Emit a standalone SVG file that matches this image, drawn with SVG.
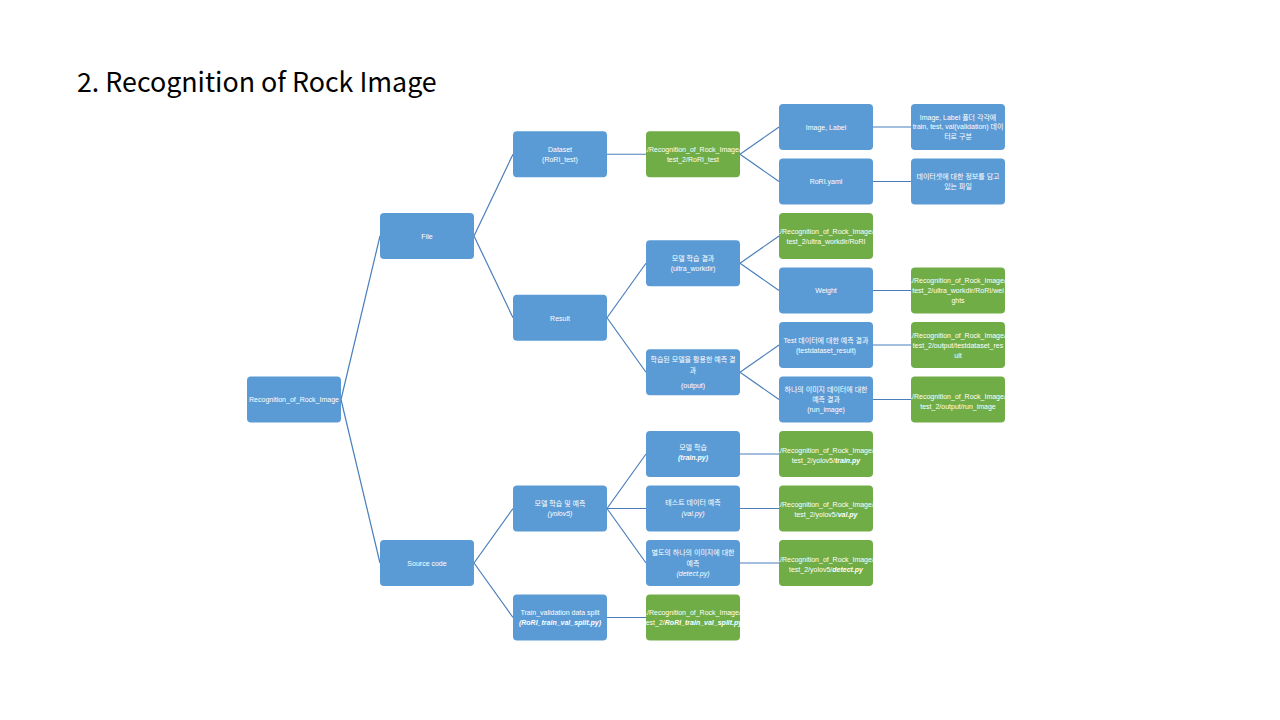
<svg xmlns="http://www.w3.org/2000/svg" width="1280" height="720" viewBox="0 0 1280 720">
<style>
.b{fill:#5b9bd5}
.g{fill:#70ad47}
.t{font-family:"Liberation Sans","Noto Sans CJK KR",sans-serif;font-size:7px;fill:#ffffff;text-anchor:middle}
.bi{font-weight:bold;font-style:italic}
.i{font-style:italic}
.c line{stroke:#4a7ebb;stroke-width:1.2}
.title{font-family:"Noto Sans CJK KR","Noto Sans",sans-serif;font-size:26.8px;fill:#000000}
</style>
<rect width="1280" height="720" fill="#ffffff"/>
<text class="title" x="77" y="92">2. Recognition of Rock Image</text>
<g class="c" id="connectors">
<line x1="341" y1="399.5" x2="380" y2="236"/>
<line x1="341" y1="399.5" x2="380" y2="563"/>
<line x1="474" y1="236" x2="513" y2="154.25"/>
<line x1="474" y1="236" x2="513" y2="317.75"/>
<line x1="474" y1="563" x2="513" y2="508.5"/>
<line x1="474" y1="563" x2="513" y2="617.5"/>
<line x1="607" y1="154.25" x2="646" y2="154.25"/>
<line x1="740" y1="154.25" x2="779" y2="127"/>
<line x1="740" y1="154.25" x2="779" y2="181.5"/>
<line x1="873" y1="127" x2="911" y2="127"/>
<line x1="873" y1="181.5" x2="911" y2="181.5"/>
<line x1="607" y1="317.75" x2="646" y2="263.25"/>
<line x1="607" y1="317.75" x2="646" y2="372.25"/>
<line x1="740" y1="263.25" x2="779" y2="236"/>
<line x1="740" y1="263.25" x2="779" y2="290.5"/>
<line x1="873" y1="290.5" x2="911" y2="290.5"/>
<line x1="740" y1="372.25" x2="779" y2="345"/>
<line x1="740" y1="372.25" x2="779" y2="399.5"/>
<line x1="873" y1="345" x2="911" y2="345"/>
<line x1="873" y1="399.5" x2="911" y2="399.5"/>
<line x1="607" y1="508.5" x2="646" y2="454"/>
<line x1="607" y1="508.5" x2="646" y2="508.5"/>
<line x1="607" y1="508.5" x2="646" y2="563"/>
<line x1="740" y1="454" x2="779" y2="454"/>
<line x1="740" y1="508.5" x2="779" y2="508.5"/>
<line x1="740" y1="563" x2="779" y2="563"/>
<line x1="607" y1="617.5" x2="646" y2="617.5"/>
</g>
<g id="root"><rect class="b" x="247" y="376.5" width="94" height="46" rx="4"/><text class="t" x="294" y="402">Recognition_of_Rock_Image</text></g>
<g id="file"><rect class="b" x="380" y="213" width="94" height="46" rx="4"/><text class="t" x="427" y="238.5">File</text></g>
<g id="source"><rect class="b" x="380" y="540" width="94" height="46" rx="4"/><text class="t" x="427" y="565.5">Source code</text></g>
<g id="dataset"><rect class="b" x="513" y="131.25" width="94" height="46" rx="4"/><text class="t" x="560" y="152">Dataset</text><text class="t" x="560" y="162">(RoRI_test)</text></g>
<g id="result"><rect class="b" x="513" y="294.75" width="94" height="46" rx="4"/><text class="t" x="560" y="320.5">Result</text></g>
<g id="yolov5"><rect class="b" x="513" y="485.5" width="94" height="46" rx="4"/><text class="t" x="560" y="506">모델 학습 및 예측</text><text class="t i" x="560" y="516">(yolov5)</text></g>
<g id="trainval"><rect class="b" x="513" y="594.5" width="94" height="46" rx="4"/><text class="t" x="560" y="615">Train_validation data split</text><text class="t bi" x="560" y="625">(RoRI_train_val_split.py)</text></g>
<g id="dataset-path"><rect class="g" x="646" y="131.25" width="94" height="46" rx="4"/><text class="t" x="693" y="152">./Recognition_of_Rock_Image/</text><text class="t" x="693" y="162">test_2/RoRI_test</text></g>
<g id="train-result"><rect class="b" x="646" y="240.25" width="94" height="46" rx="4"/><text class="t" x="693" y="261">모델 학습 결과</text><text class="t" x="693" y="271">(ultra_workdir)</text></g>
<g id="predict-result"><rect class="b" x="646" y="349.25" width="94" height="46" rx="4"/><text class="t" x="693" y="362">학습된 모델을 활용한 예측 결</text><text class="t" x="693" y="372.5">과</text><text class="t" x="693" y="388">(output)</text></g>
<g id="train"><rect class="b" x="646" y="431" width="94" height="46" rx="4"/><text class="t" x="693" y="450">모델 학습</text><text class="t bi" x="693" y="460">(train.py)</text></g>
<g id="val"><rect class="b" x="646" y="485.5" width="94" height="46" rx="4"/><text class="t" x="693" y="504.5">테스트 데이터 예측</text><text class="t i" x="693" y="515.5">(val.py)</text></g>
<g id="detect"><rect class="b" x="646" y="540" width="94" height="46" rx="4"/><text class="t" x="693" y="555">별도의 하나의 이미지에 대한</text><text class="t" x="693" y="565.5">예측</text><text class="t i" x="693" y="576">(detect.py)</text></g>
<g id="trainval-path"><rect class="g" x="646" y="594.5" width="94" height="46" rx="4"/><text class="t" x="693" y="615">./Recognition_of_Rock_Image/</text><text class="t" x="693" y="625">test_2/<tspan class="bi">RoRI_train_val_split.py</tspan></text></g>
<g id="image-label"><rect class="b" x="779" y="104" width="94" height="46" rx="4"/><text class="t" x="826" y="129.5">Image, Label</text></g>
<g id="yaml"><rect class="b" x="779" y="158.5" width="94" height="46" rx="4"/><text class="t" x="826" y="184">RoRI.yaml</text></g>
<g id="workdir-path"><rect class="g" x="779" y="213" width="94" height="46" rx="4"/><text class="t" x="826" y="233.5">./Recognition_of_Rock_Image/</text><text class="t" x="826" y="243.5">test_2/ultra_workdir/RoRI</text></g>
<g id="weight"><rect class="b" x="779" y="267.5" width="94" height="46" rx="4"/><text class="t" x="826" y="293">Weight</text></g>
<g id="test-result"><rect class="b" x="779" y="322" width="94" height="46" rx="4"/><text class="t" x="826" y="343">Test 데이터에 대한 예측 결과</text><text class="t" x="826" y="353">(testdataset_result)</text></g>
<g id="run-image"><rect class="b" x="779" y="376.5" width="94" height="46" rx="4"/><text class="t" x="826" y="392">하나의 이미지 데이터에 대한</text><text class="t" x="826" y="402">예측 결과</text><text class="t" x="826" y="411.5">(run_image)</text></g>
<g id="train-path"><rect class="g" x="779" y="431" width="94" height="46" rx="4"/><text class="t" x="826" y="452.5">./Recognition_of_Rock_Image/</text><text class="t" x="826" y="462.5">test_2/yolov5/<tspan class="bi">train.py</tspan></text></g>
<g id="val-path"><rect class="g" x="779" y="485.5" width="94" height="46" rx="4"/><text class="t" x="826" y="507">./Recognition_of_Rock_Image/</text><text class="t" x="826" y="517">test_2/yolov5/<tspan class="bi">val.py</tspan></text></g>
<g id="detect-path"><rect class="g" x="779" y="540" width="94" height="46" rx="4"/><text class="t" x="826" y="561.5">./Recognition_of_Rock_Image/</text><text class="t" x="826" y="571.5">test_2/yolov5/<tspan class="bi">detect.py</tspan></text></g>
<g id="image-label-desc"><rect class="b" x="911" y="104" width="94" height="46" rx="4"/><text class="t" x="958" y="119.5">Image, Label 폴더 각각에</text><text class="t" x="958" y="129">train, test, val(validation) 데이</text><text class="t" x="958" y="138.5">터로 구분</text></g>
<g id="yaml-desc"><rect class="b" x="911" y="158.5" width="94" height="46" rx="4"/><text class="t" x="958" y="179">데이터셋에 대한 정보를 담고</text><text class="t" x="958" y="189">있는 파일</text></g>
<g id="weights-path"><rect class="g" x="911" y="267.5" width="94" height="46" rx="4"/><text class="t" x="958" y="283">./Recognition_of_Rock_Image/</text><text class="t" x="958" y="293">test_2/ultra_workdir/RoRI/wei</text><text class="t" x="958" y="303">ghts</text></g>
<g id="testresult-path"><rect class="g" x="911" y="322" width="94" height="46" rx="4"/><text class="t" x="958" y="338">./Recognition_of_Rock_Image/</text><text class="t" x="958" y="348">test_2/output/testdataset_res</text><text class="t" x="958" y="358">ult</text></g>
<g id="runimage-path"><rect class="g" x="911" y="376.5" width="94" height="46" rx="4"/><text class="t" x="958" y="398.5">./Recognition_of_Rock_Image/</text><text class="t" x="958" y="408.5">test_2/output/run_image</text></g>
</svg>
